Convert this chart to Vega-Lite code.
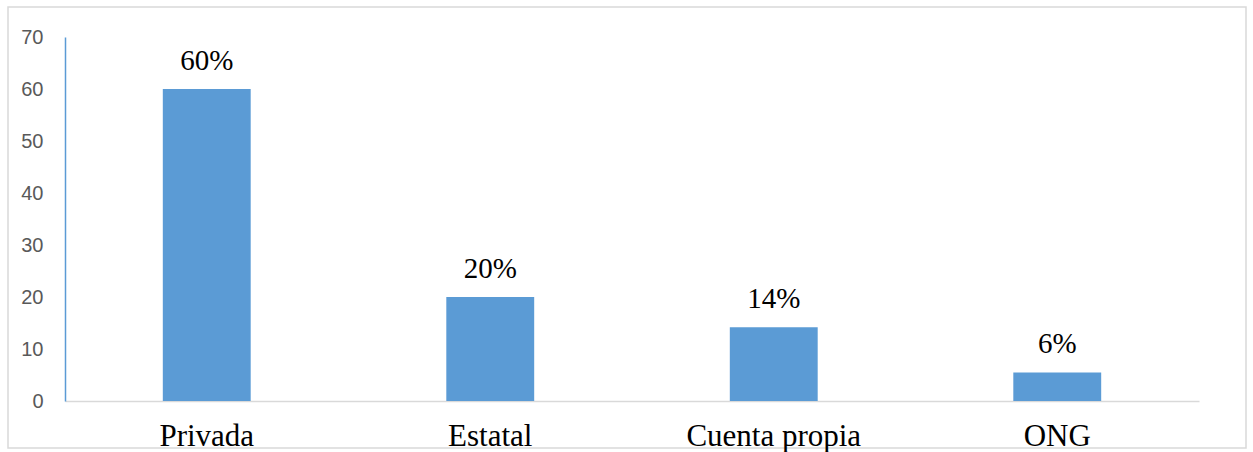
{
  "$schema": "https://vega.github.io/schema/vega-lite/v6.json",
  "autosize": {"type": "none"},
  "width": 1238,
  "height": 441,
  "padding": {"left": 8, "top": 7, "right": 7, "bottom": 4},
  "background": "white",
  "config": {
    "view": {"stroke": "#D9D9D9", "strokeWidth": 1.5},
    "text": {"font": "Liberation Serif"}
  },
  "data": {
    "values": [
      {"sector": "Privada", "valor": 60, "etiqueta": "60%"},
      {"sector": "Estatal", "valor": 20, "etiqueta": "20%"},
      {"sector": "Cuenta propia", "valor": 14.2, "etiqueta": "14%"},
      {"sector": "ONG", "valor": 5.5, "etiqueta": "6%"}
    ]
  },
  "encoding": {
    "x": {
      "field": "sector",
      "type": "nominal",
      "sort": null,
      "scale": {"range": [57, 1191], "paddingInner": 0.69, "paddingOuter": 0.345},
      "axis": {
        "title": null,
        "offset": -47,
        "labelAngle": 0,
        "ticks": false,
        "tickSize": 0,
        "labelPadding": 44,
        "labelBaseline": "alphabetic",
        "labelFont": "Liberation Serif",
        "labelFontSize": 31,
        "labelColor": "#000000",
        "labelLimit": 0,
        "domainColor": "#D9D9D9",
        "domainWidth": 1.5
      }
    },
    "y": {
      "field": "valor",
      "type": "quantitative",
      "scale": {"domain": [0, 70], "range": [394, 30], "nice": false, "zero": true},
      "axis": {
        "title": null,
        "offset": -57,
        "values": [0, 10, 20, 30, 40, 50, 60, 70],
        "grid": false,
        "ticks": false,
        "tickSize": 0,
        "labelPadding": 22,
        "labelFont": "Liberation Sans",
        "labelFontSize": 20,
        "labelColor": "#595959",
        "labelBaseline": "middle",
        "domainColor": "#5B9BD5",
        "domainWidth": 1.5
      }
    }
  },
  "layer": [
    {
      "mark": {"type": "bar", "color": "#5B9BD5"}
    },
    {
      "mark": {
        "type": "text",
        "baseline": "alphabetic",
        "align": "center",
        "dy": -19,
        "font": "Liberation Serif",
        "fontSize": 29,
        "color": "#000000"
      },
      "encoding": {
        "text": {"field": "etiqueta", "type": "nominal"}
      }
    }
  ]
}
